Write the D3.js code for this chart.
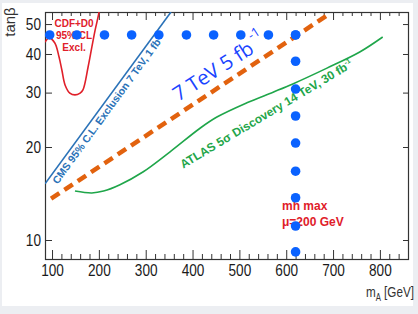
<!DOCTYPE html>
<html>
<head>
<meta charset="utf-8">
<script src="https://cdn.jsdelivr.net/npm/d3@7"></script>
<style>
  body { margin: 0; background: #eceef2; }
  svg { display: block; }
</style>
</head>
<body>
<svg id="chart" width="418" height="314"></svg>
<script>
// axis ticks (m_A in GeV, tan beta on log scale)
var xTicks = [100, 200, 300, 400, 500, 600, 700, 800];
var xMinor = d3.range(120, 860, 20).filter(function(v){ return v % 100 !== 0; });
var yTicks = [10, 20, 30, 40, 50];

// CDF+D0 95% CL exclusion contour [mA, tanb]
var cdfCurve = [[85, 43.7], [93.6, 45.1], [106, 43.4], [115, 39.1], [121, 35.5], [128, 31.7],
  [138, 29.9], [149, 29.5], [160, 29.9], [166, 30.6], [177, 36.3], [185, 42.1], [192, 47.8], [200, 54.3], [202, 58]];

// CMS 95% CL exclusion, 7 TeV 1 fb-1
var cmsLine = [[85, 15.2], [354, 54.7]];

// ATLAS 5 sigma discovery, 14 TeV 30 fb-1
var atlasCurve = [[149, 14.4], [185, 14.2], [210, 14.4], [245, 15.1], [294, 16.6], [352, 19.3],
  [416, 23.0], [452, 25.0], [516, 27.8], [572, 30.1], [614, 32.0], [687, 36.0], [757, 40.6], [806, 45.4]];

// projected 7 TeV 5 fb-1 reach (dashed)
var reachLine = [[98, 13.6], [695, 54.3]];

// scan points
var rowMA = [95, 153, 212, 270, 328, 387, 445, 503, 562, 620];
var rowTanb = 46.1;
var colMA = 620;
var colTanb = [46.1, 37.9, 30.8, 25.2, 20.6, 16.7, 13.7, 11.1, 9.15];

var svg = d3.select("#chart");
var plot = {left: 45, right: 408, top: 12, bottom: 259};

// white slide panel
svg.append("rect").attr("x", 2).attr("y", 3).attr("width", 411).attr("height", 303).attr("fill", "#fff");

var x = d3.scaleLinear().domain([85, 860]).range([plot.left, plot.right]);
var y = d3.scaleLog().domain([8.68, 54.7]).range([plot.bottom, plot.top]);

svg.append("defs").append("clipPath").attr("id", "clip").append("rect")
  .attr("x", plot.left).attr("y", plot.top)
  .attr("width", plot.right - plot.left).attr("height", plot.bottom - plot.top);

var axisFont = "'Liberation Sans', Arial, sans-serif";

function styleAxis(g) {
  g.select(".domain").remove();
  g.selectAll(".tick line").attr("stroke", "#333");
  g.selectAll(".tick text").attr("fill", "#1a1a1a")
    .style("font-family", axisFont).style("font-size", "16px");
}

// bottom axis
svg.append("g").attr("transform", "translate(0," + plot.bottom + ")")
  .call(d3.axisBottom(x).tickValues(xTicks).tickSize(-9).tickPadding(6).tickFormat(d3.format("d")))
  .call(styleAxis);
svg.append("g").attr("transform", "translate(0," + plot.bottom + ")")
  .call(d3.axisBottom(x).tickValues(xMinor).tickSize(-5).tickFormat(""))
  .call(styleAxis);
// top axis
svg.append("g").attr("transform", "translate(0," + plot.top + ")")
  .call(d3.axisTop(x).tickValues(xTicks).tickSize(-8).tickFormat(""))
  .call(styleAxis);
svg.append("g").attr("transform", "translate(0," + plot.top + ")")
  .call(d3.axisTop(x).tickValues(xMinor).tickSize(-4).tickFormat(""))
  .call(styleAxis);
// left axis
svg.append("g").attr("transform", "translate(" + plot.left + ",0)")
  .call(d3.axisLeft(y).tickValues(yTicks).tickSize(-7).tickPadding(4).tickFormat(d3.format("d")))
  .call(styleAxis);
// right axis
svg.append("g").attr("transform", "translate(" + plot.right + ",0)")
  .call(d3.axisRight(y).tickValues(yTicks).tickSize(-5).tickFormat(""))
  .call(styleAxis);

// condensed look of the tick labels
svg.selectAll(".tick text").each(function() {
  var w = this.getComputedTextLength();
  if (w > 0) d3.select(this).attr("textLength", w * 0.85).attr("lengthAdjust", "spacingAndGlyphs");
});

// frame
svg.append("rect").attr("x", plot.left + 0.5).attr("y", plot.top + 0.5)
  .attr("width", plot.right - plot.left).attr("height", plot.bottom - plot.top)
  .attr("fill", "none").attr("stroke", "#333").attr("stroke-width", 1.2);

// axis titles
svg.append("text").attr("transform", "translate(15,22) rotate(-90)")
  .attr("text-anchor", "middle").attr("fill", "#333")
  .style("font", "15px " + axisFont).text("tanβ");

var mA = svg.append("text").attr("transform", "translate(414,297) scale(0.78,1)")
  .attr("text-anchor", "end").attr("fill", "#333").style("font", "15px " + axisFont);
mA.append("tspan").text("m");
mA.append("tspan").attr("dy", 4).style("font-size", "10px").text("A");
mA.append("tspan").attr("dy", -4).text(" [GeV]");

// curves
var lineGen = d3.line().x(function(d){ return x(d[0]); }).y(function(d){ return y(d[1]); });
var smoothGen = d3.line().x(function(d){ return x(d[0]); }).y(function(d){ return y(d[1]); })
  .curve(d3.curveCatmullRom);

var curves = svg.append("g").attr("clip-path", "url(#clip)");
curves.append("path").datum(cdfCurve).attr("d", smoothGen)
  .attr("fill", "none").attr("stroke", "#e0202a").attr("stroke-width", 1.6);
curves.append("path").datum(cmsLine).attr("d", lineGen)
  .attr("fill", "none").attr("stroke", "#2a72b8").attr("stroke-width", 1.6);
curves.append("path").datum(atlasCurve).attr("d", smoothGen)
  .attr("fill", "none").attr("stroke", "#1fa64a").attr("stroke-width", 1.6);
curves.append("path").datum(reachLine).attr("d", lineGen)
  .attr("fill", "none").attr("stroke", "#e2620e").attr("stroke-width", 4.5)
  .attr("stroke-dasharray", "10,6");

// annotations
var cdfText = svg.append("text").attr("text-anchor", "middle").attr("fill", "#e0202a")
  .style("font", "bold 10px " + axisFont);
["CDF+D0", "95% CL", "Excl."].forEach(function(s, i) {
  cdfText.append("tspan").attr("x", x(147)).attr("y", y(48.9) + i * 12).text(s);
});

var cmsText = svg.append("text")
  .attr("transform", "translate(" + x(112) + "," + y(15.1) + ") rotate(-54)")
  .attr("fill", "#2a72b8").style("font", "bold 10.5px " + axisFont);
cmsText.append("tspan").text("CMS 95% C.L. Exclusion 7 TeV, 1 fb");
cmsText.append("tspan").attr("dy", -4).style("font-size", "7px").text("-1");

var atlasText = svg.append("text")
  .attr("transform", "translate(" + x(380) + "," + y(17.0) + ") rotate(-31)")
  .attr("fill", "#1fa64a").style("font", "bold 12px " + axisFont);
atlasText.append("tspan").text("ATLAS 5σ Discovery 14 TeV, 30 fb");
atlasText.append("tspan").attr("dy", -5).style("font-size", "7px").text("-1");

var reachText = svg.append("text")
  .attr("transform", "translate(" + x(370) + "," + y(28.0) + ") rotate(-33)")
  .attr("fill", "#1a44ff").style("font", "20px 'Open Sans', sans-serif");
reachText.append("tspan").text("7 TeV 5 fb");
reachText.append("tspan").attr("dx", 3).attr("dy", -12).style("font-size", "13px").text("-1");

var scenText = svg.append("text").attr("fill", "#e0202a").style("font", "bold 12px " + axisFont);
scenText.append("tspan").attr("x", x(591)).attr("y", y(12.5)).text("mh max");
scenText.append("tspan").attr("x", x(591)).attr("y", y(12.5) + 16).text("μ=200 GeV");

// scan points on top
var dots = svg.append("g").attr("fill", "#0a62ff");
dots.selectAll(".row").data(rowMA).enter().append("circle")
  .attr("cx", function(d){ return x(d); }).attr("cy", y(rowTanb)).attr("r", 4.8);
dots.selectAll(".col").data(colTanb).enter().append("circle")
  .attr("cx", x(colMA)).attr("cy", function(d){ return y(d); }).attr("r", 4.8);
</script>
</body>
</html>
